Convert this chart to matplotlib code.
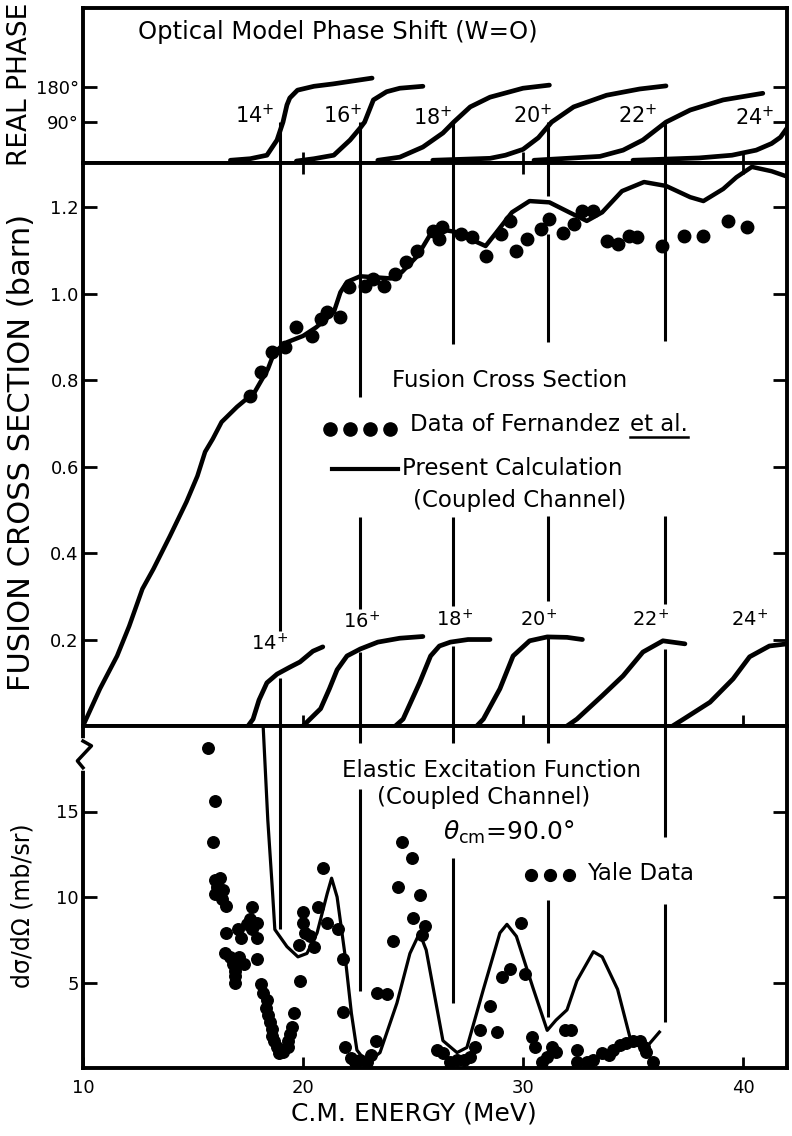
import matplotlib.pyplot as plt
from matplotlib.lines import Line2D

plt.rcParams['font.family'] = 'DejaVu Sans'
plt.rcParams['mathtext.fontset'] = 'dejavusans'

# ---------------- data ----------------
# top panel: optical model real phase shift (deg) per partial wave
ph14_e = [16.7, 17.6, 18.36, 18.82, 19.09, 19.27, 19.4, 19.75, 20.5, 21.36, 23.14]
ph14_deg = [-8, -4, 5, 44, 90, 134, 152, 172, 182, 188, 203]
ph16_e = [19.7, 20.5, 21.4, 22.14, 22.6, 22.8, 23.2, 23.8, 24.4, 25.45]
ph16_deg = [-10, -4, 5, 44, 75, 90, 147, 168, 177, 182]
ph18_e = [23.4, 24.4, 25.45, 26.36, 26.85, 27.6, 28.5, 30.0, 31.2]
ph18_deg = [-8, 0, 26, 62, 90, 129, 154, 177, 185]
ph20_e = [25.9, 28.5, 29.2, 30.0, 30.7, 31.3, 32.3, 33.8, 35.3, 36.5]
ph20_deg = [-8, -3, 5, 20, 50, 90, 129, 159, 175, 183]
ph22_e = [30.5, 33.5, 34.55, 35.45, 36.5, 37.6, 39.1, 40.9]
ph22_deg = [-8, 2, 18, 44, 90, 121, 147, 164]
ph24_e = [35.0, 38.0, 39.5, 40.6, 41.3, 41.7, 42.2]
ph24_deg = [-8, -2, 5, 18, 35, 51, 90]

# middle panel: fusion cross section (barn)
fus_e = [10.0, 10.77, 11.55, 12.1, 12.7, 13.2, 13.95, 14.7, 15.2, 15.55, 15.9,
         16.3, 17.0, 17.8, 18.4, 18.7, 19.3, 20.0, 20.6, 21.4, 21.7, 22.0, 22.6,
         23.2, 24.0, 24.5, 25.2, 25.8, 26.2, 27.0, 27.6, 28.3, 28.8, 29.5, 30.3,
         31.2, 32.1, 32.9, 33.6, 34.5, 35.5, 36.5, 37.6, 38.2, 39.1, 39.7, 40.4,
         41.3, 42.1]
fus_calc = [0.0, 0.086, 0.162, 0.231, 0.317, 0.363, 0.439, 0.518, 0.578, 0.634,
            0.664, 0.703, 0.738, 0.772, 0.825, 0.865, 0.888, 0.902, 0.922, 0.957,
            1.003, 1.027, 1.040, 1.038, 1.035, 1.05, 1.087, 1.138, 1.149, 1.142,
            1.126, 1.110, 1.142, 1.188, 1.214, 1.211, 1.188, 1.168, 1.188, 1.237,
            1.258, 1.249, 1.223, 1.214, 1.242, 1.269, 1.293, 1.283, 1.269]
fern_e = [17.6, 18.1, 18.6, 19.2, 19.7, 20.4, 20.8, 21.1, 21.7, 22.1, 22.8, 23.2,
          23.7, 24.2, 24.7, 25.2, 25.9, 26.2, 26.3, 27.2, 27.7, 28.3, 29.0, 29.4,
          29.7, 30.2, 30.8, 31.2, 31.8, 32.3, 32.7, 33.2, 33.8, 34.3, 34.8, 35.2,
          36.3, 37.3, 38.2, 39.3, 40.2]
fern_sig = [0.763, 0.818, 0.865, 0.876, 0.922, 0.902, 0.941, 0.957, 0.946, 1.015,
            1.017, 1.034, 1.017, 1.045, 1.073, 1.098, 1.145, 1.126, 1.154, 1.138,
            1.131, 1.087, 1.138, 1.168, 1.098, 1.126, 1.149, 1.172, 1.140, 1.161,
            1.191, 1.191, 1.121, 1.114, 1.133, 1.131, 1.110, 1.133, 1.133, 1.168,
            1.154]

# middle panel: partial wave contributions
pw14_e = [17.5, 17.73, 18.0, 18.36, 18.82, 19.4, 19.86, 20.45, 20.9]
pw14_s = [0.0, 0.016, 0.06, 0.10, 0.12, 0.136, 0.148, 0.173, 0.183]
pw16_e = [20.0, 20.4, 20.8, 21.2, 21.55, 22.0, 22.6, 23.4, 24.4, 25.45]
pw16_s = [0.0, 0.02, 0.04, 0.086, 0.13, 0.162, 0.178, 0.194, 0.203, 0.207]
pw18_e = [24.2, 24.55, 25.3, 25.8, 26.2, 26.7, 27.5, 28.5]
pw18_s = [0.0, 0.016, 0.10, 0.162, 0.185, 0.194, 0.2, 0.2]
pw20_e = [27.9, 28.2, 28.95, 29.55, 30.3, 31.1, 32.0, 32.7]
pw20_s = [0.0, 0.016, 0.086, 0.162, 0.197, 0.206, 0.205, 0.2]
pw22_e = [32.0, 32.45, 33.6, 34.55, 35.45, 36.36, 37.36]
pw22_s = [0.0, 0.016, 0.07, 0.116, 0.171, 0.197, 0.19]
pw24_e = [36.8, 37.3, 38.5, 39.55, 40.3, 41.2, 42.0]
pw24_s = [0.0, 0.016, 0.055, 0.109, 0.16, 0.185, 0.19]

# bottom panel: elastic excitation function (mb/sr)
el_e = [18.15, 18.4, 18.6, 18.72, 19.27, 19.77, 20.18, 20.64, 21.1, 21.3, 21.55,
        21.9, 22.2, 22.45, 22.9, 23.5, 24.27, 24.86, 25.3, 25.6, 26.36, 27.0,
        27.45, 28.2, 28.95, 29.27, 29.7, 30.45, 31.1, 31.5, 32.0, 32.45, 33.2,
        33.6, 34.3, 34.86, 35.6, 36.2]
el_calc = [21, 14.5, 10.6, 8.1, 7.1, 6.5, 6.7, 7.9, 10.2, 11.1, 10.0, 6.7, 3.2,
           1.05, 0.3, 0.9, 3.8, 6.7, 7.9, 6.9, 1.6, 0.9, 1.2, 4.6, 7.9, 8.4, 7.7,
           4.7, 2.2, 2.8, 3.4, 5.1, 6.8, 6.5, 4.6, 1.8, 1.2, 2.1]
yale_e = [15.68, 16.0, 15.9, 16.0, 16.23, 16.1, 16.0, 16.36, 16.3, 16.5, 16.5,
          16.45, 16.7, 16.8, 16.9, 16.9, 16.9, 17.05, 17.2, 17.1, 17.3, 17.45,
          17.6, 17.7, 17.7, 17.9, 17.9, 17.9, 18.1, 18.2, 18.35, 18.3, 18.4, 18.5,
          18.6, 18.6, 18.7, 18.8, 18.9, 19.1, 19.3, 19.3, 19.4, 19.5, 19.6, 19.86,
          19.8, 20.0, 20.0, 20.1, 20.3, 20.5, 20.7, 20.9, 21.1, 21.6, 21.8, 21.8,
          21.9, 22.2, 22.36, 22.6, 22.9, 23.1, 23.3, 23.36, 23.8, 24.1, 24.3,
          24.5, 24.95, 25.3, 25.0, 25.55, 25.4, 26.1, 26.36, 26.7, 27.0, 27.3,
          27.6, 27.8, 28.05, 28.8, 28.5, 29.05, 29.4, 30.1, 29.9, 30.4, 30.55,
          30.86, 31.1, 31.3, 31.5, 31.9, 32.2, 32.45, 32.45, 32.9, 33.2, 33.6,
          33.9, 34.1, 34.4, 34.7, 35.0, 35.3, 35.5, 35.6, 35.9]
yale_mb = [18.7, 15.6, 13.2, 11.0, 11.1, 10.6, 10.2, 10.4, 9.9, 9.5, 7.9, 6.7,
           6.5, 6.1, 5.7, 5.4, 5.0, 8.1, 7.6, 6.5, 6.1, 8.4, 8.7, 9.4, 8.1, 8.5,
           7.6, 6.4, 4.9, 4.4, 4.0, 3.5, 3.1, 2.7, 2.3, 1.9, 1.6, 1.2, 0.9, 0.95,
           1.2, 1.6, 2.0, 2.4, 3.2, 5.1, 7.2, 9.1, 8.5, 7.9, 7.7, 7.1, 9.4, 11.7,
           8.5, 8.1, 6.4, 3.3, 1.2, 0.6, 0.35, 0.45, 0.35, 0.75, 1.6, 4.4, 4.3,
           7.4, 10.6, 13.2, 12.3, 10.1, 8.8, 8.3, 7.8, 1.05, 0.9, 0.35, 0.45,
           0.45, 0.65, 1.2, 2.2, 2.1, 3.6, 5.3, 5.8, 5.5, 8.5, 1.8, 1.2, 0.35,
           0.65, 1.2, 0.95, 2.2, 2.2, 1.05, 0.35, 0.35, 0.45, 0.9, 0.75, 1.05,
           1.35, 1.45, 1.6, 1.6, 1.2, 0.95, 0.35]

# energies where the phase passes 90 deg (marker lines) and their labels
res_e = [18.95, 22.6, 26.8, 31.15, 36.45]
wave_labels = ["14", "16", "18", "20", "22", "24"]

# ---------------- figure ----------------
fig = plt.figure(figsize=(7.92, 11.36), dpi=100)
L, W = 83 / 792, 704 / 792
ax_top = fig.add_axes([L, 1 - 163 / 1136, W, 155 / 1136])
ax_mid = fig.add_axes([L, 1 - 726 / 1136, W, 563 / 1136])
ax_bot = fig.add_axes([L, 1 - 1068 / 1136, W, 342 / 1136])

for ax in (ax_top, ax_mid, ax_bot):
    ax.set_xlim(10, 42)
    for s in ax.spines.values():
        s.set_linewidth(2.8)
    ax.tick_params(axis='y', direction='in', length=10, width=2, labelsize=13,
                   pad=3, right=True, labelright=False)
    ax.tick_params(axis='x', direction='in', length=8, width=2, labelsize=13)

# top panel
ax_top.set_ylim(-15, 383)
ax_top.set_yticks([90, 180])
ax_top.set_yticklabels(["90°", "180°"])
ax_top.set_xticks([20, 30, 40])
ax_top.tick_params(axis='x', labelbottom=False)
for e, d in [(ph14_e, ph14_deg), (ph16_e, ph16_deg), (ph18_e, ph18_deg),
             (ph20_e, ph20_deg), (ph22_e, ph22_deg), (ph24_e, ph24_deg)]:
    ax_top.plot(e, d, color='k', lw=3.4, solid_capstyle='round',
                solid_joinstyle='round')
ax_top.vlines(res_e, -15, 90, color='k', lw=2.2)
for lab, e, d in zip(wave_labels, [17.82, 21.82, 25.9, 30.45, 35.2, 40.55],
                     [108, 108, 103, 108, 108, 103]):
    ax_top.text(e, d, lab + r"$^{+}$", fontsize=15, ha='center', va='center')
ax_top.text(12.5, 321, "Optical Model Phase Shift (W=O)", fontsize=17.5,
            ha='left', va='center')

# middle panel
ax_mid.set_ylim(0, 1.302)
ax_mid.set_yticks([0.2, 0.4, 0.6, 0.8, 1.0, 1.2])
ax_mid.set_yticklabels(["0.2", "0.4", "0.6", "0.8", "1.0", "1.2"])
ax_mid.set_xticks([20, 30, 40])
ax_mid.tick_params(axis='x', top=True, labelbottom=False)
ax_mid.plot(fus_e, fus_calc, color='k', lw=3.2, solid_joinstyle='round')
ax_mid.plot(fern_e, fern_sig, 'o', color='k', ms=9, ls='none')
for e, s in [(pw14_e, pw14_s), (pw16_e, pw16_s), (pw18_e, pw18_s),
             (pw20_e, pw20_s), (pw22_e, pw22_s), (pw24_e, pw24_s)]:
    ax_mid.plot(e, s, color='k', lw=3.4, solid_capstyle='round',
                solid_joinstyle='round')
mid_segs = [[(0.22, 1.31), (0, 0.11)],
            [(0.76, 1.31), (0.27, 0.483), (0, 0.171)],
            [(0.883, 1.31), (0.277, 0.483), (0, 0.185)],
            [(1.225, 1.31), (0.888, 1.138), (0.289, 0.486), (0, 0.206)],
            [(0.89, 1.31), (0.282, 0.486), (0, 0.178)]]
for e, segs in zip(res_e, mid_segs):
    for lo, hi in segs:
        ax_mid.vlines(e, lo, hi, color='k', lw=2.2)
for lab, e, s in zip(wave_labels, [18.5, 22.64, 26.9, 30.7, 35.8, 40.3],
                     [0.19, 0.24, 0.245, 0.245, 0.245, 0.245]):
    ax_mid.text(e, s, lab + r"$^{+}$", fontsize=14, ha='center', va='center')

# middle legend block
fs_leg = 16.5
ax_mid.text(0.439, 0.613, "Fusion Cross Section", transform=ax_mid.transAxes,
            fontsize=fs_leg, ha='left', va='center')
ax_mid.plot([0.351, 0.379, 0.408, 0.436], [0.528] * 4, 'o', color='k', ms=9.5,
            transform=ax_mid.transAxes, clip_on=False)
t_data = ax_mid.text(0.464, 0.535, "Data of Fernandez", transform=ax_mid.transAxes,
                     fontsize=fs_leg, ha='left', va='center')
t_etal = ax_mid.text(0.8, 0.535, "et al.", transform=ax_mid.transAxes,
                     fontsize=fs_leg, ha='left', va='center')
ax_mid.plot([0.354, 0.447], [0.457, 0.457], color='k', lw=3,
            transform=ax_mid.transAxes)
ax_mid.text(0.453, 0.457, "Present Calculation", transform=ax_mid.transAxes,
            fontsize=fs_leg, ha='left', va='center')
ax_mid.text(0.469, 0.40, "(Coupled Channel)", transform=ax_mid.transAxes,
            fontsize=fs_leg, ha='left', va='center')

# bottom panel
ax_bot.set_ylim(0, 20)
ax_bot.set_yticks([5, 10, 15])
ax_bot.set_yticklabels(["5", "10", "15"])
ax_bot.set_xticks([10, 20, 30, 40])
ax_bot.set_xticklabels(["10", "20", "30", "40"])
ax_bot.tick_params(axis='x', pad=8)
ax_bot.plot(el_e, el_calc, color='k', lw=2.3, solid_joinstyle='round')
ax_bot.plot(yale_e, yale_mb, 'o', color='k', ms=8.3, ls='none')
bot_segs = [[(8.1, 20)],
            [(19.0, 20), (4.5, 16.3)],
            [(19.0, 20), (3.8, 12.3)],
            [(19.0, 20), (3.0, 9.8)],
            [(13.5, 20), (2.7, 9.6)]]
for e, segs in zip(res_e, bot_segs):
    for lo, hi in segs:
        ax_bot.vlines(e, lo, hi, color='k', lw=2.2)
ax_bot.text(0.368, 0.871, "Elastic Excitation Function", transform=ax_bot.transAxes,
            fontsize=fs_leg, ha='left', va='center')
ax_bot.text(0.418, 0.792, "(Coupled Channel)", transform=ax_bot.transAxes,
            fontsize=fs_leg, ha='left', va='center')
ax_bot.text(0.511, 0.69, r"$\theta_{\rm cm}$=90.0°", transform=ax_bot.transAxes,
            fontsize=18, ha='left', va='center')
ax_bot.plot([0.637, 0.664, 0.690], [0.564] * 3, 'o', color='k', ms=8.5,
            transform=ax_bot.transAxes)
ax_bot.text(0.716, 0.570, "Yale Data", transform=ax_bot.transAxes,
            fontsize=fs_leg, ha='left', va='center')

# axis break mark on the left spine of the bottom panel
ax_bot.plot([0, 0], [0.878, 0.956], color='white', lw=4,
            transform=ax_bot.transAxes, clip_on=False, zorder=5)
ax_bot.plot([0, 0.012, -0.008, 0], [0.956, 0.942, 0.898, 0.878], color='k',
            lw=2.5, transform=ax_bot.transAxes, clip_on=False, zorder=6)

# axis titles
fig.text(20 / 792, 1 - 84 / 1136, "REAL PHASE", rotation=90, fontsize=19,
         ha='center', va='center')
fig.text(22 / 792, 1 - 452 / 1136, "FUSION CROSS SECTION (barn)", rotation=90,
         fontsize=22, ha='center', va='center')
fig.text(23 / 792, 1 - 906 / 1136, "dσ/dΩ (mb/sr)", rotation=90, fontsize=17,
         ha='center', va='center')
fig.text(414 / 792, 1 - 1113 / 1136, "C.M. ENERGY (MeV)", fontsize=18,
         ha='center', va='center')

# place "et al." right after the author name and underline it
fig.canvas.draw()
inv_ax = ax_mid.transAxes.inverted()
bd = t_data.get_window_extent()
gap = 10
t_etal.set_position((inv_ax.transform((bd.x1 + gap, bd.y0))[0], 0.535))
fig.canvas.draw()
bb = t_etal.get_window_extent()
inv = fig.transFigure.inverted()
(x0, y0), (x1, y1) = inv.transform([[bb.x0, bb.y0], [bb.x1, bb.y1]])
fig.add_artist(Line2D([x0, x1], [y0 - 0.001, y0 - 0.001], lw=1.8, color='k',
                      transform=fig.transFigure))

fig.savefig("out.png", dpi=100)
